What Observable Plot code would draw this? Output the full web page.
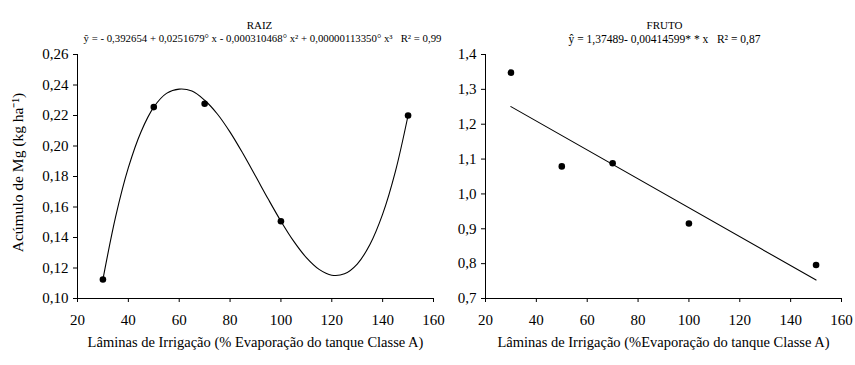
<!DOCTYPE html>
<html>
<head>
<meta charset="utf-8">
<script src="https://cdn.jsdelivr.net/npm/d3@7"></script>
<script src="https://cdn.jsdelivr.net/npm/@observablehq/plot@0.6"></script>
<style>
  html, body { margin: 0; padding: 0; background: #fff; }
  #row { display: flex; width: 855px; height: 365px; position: relative; }
  #row svg { background: none !important; }
  svg text { font-family: "Liberation Serif", "Times New Roman", serif; }
</style>
</head>
<body>
<div id="row"></div>
<script>
// Irrigation depths (% of Class A pan evaporation)
const xTicks = [20, 40, 60, 80, 100, 120, 140, 160];

// RAIZ: Mg accumulation (kg/ha) observed
const raizX = [30, 50, 70, 100, 150];
const raizY = [0.1125, 0.2255, 0.2277, 0.1507, 0.220];
// RAIZ: fitted cubic trend, sampled along its path
const raizCurveX = [30, 35, 40, 45, 50, 55, 60, 65, 70, 75, 80, 85, 90, 95, 100, 105, 110, 115, 120, 125, 130, 135, 140, 145, 150];
const raizCurveY = [0.1125, 0.1537, 0.1858, 0.2094, 0.2255, 0.2345, 0.2373, 0.2360, 0.2300, 0.2210, 0.2091, 0.1952, 0.1803, 0.1652, 0.1507, 0.1376, 0.1268, 0.1191, 0.1153, 0.1162, 0.1226, 0.1354, 0.1553, 0.1832, 0.220];
const raizYTicks = [0.10, 0.12, 0.14, 0.16, 0.18, 0.20, 0.22, 0.24, 0.26];
const raizTitle = "RAIZ";
const raizEq = "ŷ = - 0,392654 + 0,0251679° x - 0,000310468° x² + 0,00000113350° x³   R² = 0,99";

// FRUTO: Mg accumulation (kg/ha) observed
const frutoX = [30, 50, 70, 100, 150];
const frutoY = [1.348, 1.079, 1.088, 0.915, 0.796];
// FRUTO: linear fit  y = a + b x
const frutoCoef = [1.37489, -0.00414599];
const frutoLineX = [30, 150];
const frutoYTicks = [0.7, 0.8, 0.9, 1.0, 1.1, 1.2, 1.3, 1.4];
const frutoTitle = "FRUTO";
const frutoEq = "ŷ = 1,37489- 0,00414599* * x   R² = 0,87";

const yLabel = "Acúmulo de Mg (kg ha⁻¹)";
const xLabelRaiz = "Lâminas de Irrigação (% Evaporação do tanque Classe A)";
const xLabelFruto = "Lâminas de Irrigação (%Evaporação do tanque Classe A)";

const comma = (digits) => (d) => d.toFixed(digits).replace(".", ",");

const baseStyle = {
  fontFamily: "Liberation Serif, Times New Roman, serif",
  fontSize: "15px",
  color: "#000",
  background: "none",
  overflow: "visible"
};

const raiz = raizCurveX.map((x, i) => ({x, y: raizCurveY[i]}));
const raizPts = raizX.map((x, i) => ({x, y: raizY[i]}));

const left = Plot.plot({
  width: 445,
  height: 365,
  marginLeft: 77,
  marginRight: 12,
  marginTop: 54,
  marginBottom: 67,
  style: baseStyle,
  x: {domain: [20, 160]},
  y: {domain: [0.10, 0.26]},
  marks: [
    Plot.axisX({ticks: xTicks, tickSize: 4, tickPadding: 12, tickFormat: (d) => String(d), label: null}),
    Plot.axisY({ticks: raizYTicks, tickSize: 4, tickPadding: 5, tickFormat: comma(2), label: null}),
    Plot.ruleX([20], {stroke: "#000"}),
    Plot.ruleY([0.10], {stroke: "#000"}),
    Plot.line(raiz, {x: "x", y: "y", curve: "catmull-rom", stroke: "#000", strokeWidth: 1.1}),
    Plot.dot(raizPts, {x: "x", y: "y", r: 3.3, fill: "#000", stroke: null}),
    Plot.text([raizTitle], {frameAnchor: "top", dx: 4, dy: -33, fontSize: 11}),
    Plot.text([raizEq], {frameAnchor: "top", dx: 7, dy: -20, fontSize: 10.8}),
    Plot.text([yLabel], {frameAnchor: "left", textAnchor: "middle", rotate: -90, dx: -59, dy: -4, fontSize: 15.5}),
    Plot.text([xLabelRaiz], {frameAnchor: "bottom", dy: 48, fontSize: 14.5})
  ]
});

const frutoLine = frutoLineX.map((x) => ({x, y: frutoCoef[0] + frutoCoef[1] * x}));
const frutoPts = frutoX.map((x, i) => ({x, y: frutoY[i]}));

const right = Plot.plot({
  width: 410,
  height: 365,
  marginLeft: 40,
  marginRight: 14,
  marginTop: 54,
  marginBottom: 67,
  style: baseStyle,
  x: {domain: [20, 160]},
  y: {domain: [0.7, 1.4]},
  marks: [
    Plot.axisX({ticks: xTicks, tickSize: 4, tickPadding: 12, tickFormat: (d) => String(d), label: null}),
    Plot.axisY({ticks: frutoYTicks, tickSize: 4, tickPadding: 5, tickFormat: comma(1), label: null}),
    Plot.ruleX([20], {stroke: "#000"}),
    Plot.ruleY([0.7], {stroke: "#000"}),
    Plot.line(frutoLine, {x: "x", y: "y", stroke: "#000", strokeWidth: 1.1}),
    Plot.dot(frutoPts, {x: "x", y: "y", r: 3.3, fill: "#000", stroke: null}),
    Plot.text([frutoTitle], {frameAnchor: "top", dx: 1, dy: -33, fontSize: 11}),
    Plot.text([frutoEq], {frameAnchor: "top", dx: 1, dy: -20, fontSize: 11.5}),
    Plot.text([xLabelFruto], {frameAnchor: "bottom", dy: 48, fontSize: 14.5})
  ]
});

// left panel drawn last so its equation can run over the right panel's margin
left.style.position = "relative";
left.style.zIndex = "1";
document.getElementById("row").append(left, right);
</script>
</body>
</html>
